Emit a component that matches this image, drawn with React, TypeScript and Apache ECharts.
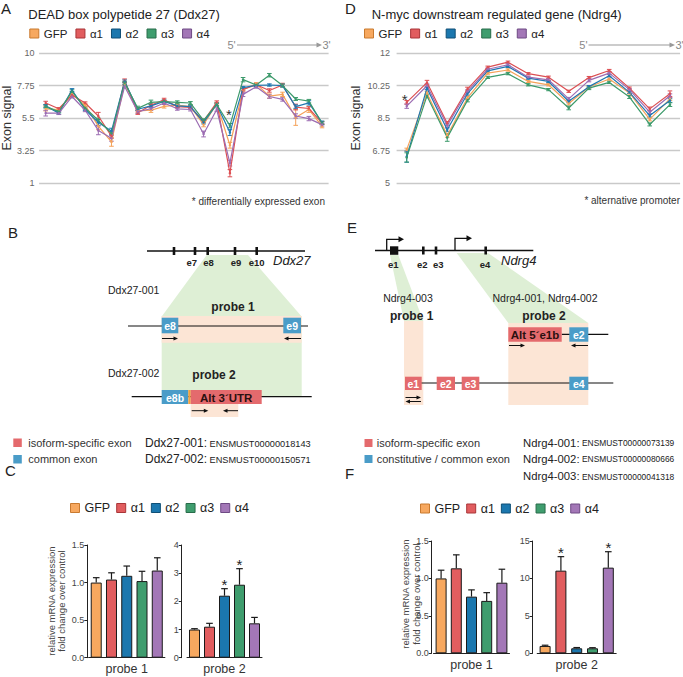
import { useEffect, useRef } from "react";
import * as echarts from "echarts";

const FONT = "'Liberation Sans', Arial, Helvetica, sans-serif";

const groups = ["GFP", "α1", "α2", "α3", "α4"];
const lineColors = ["#f5a259", "#dc4f53", "#1f78b1", "#3c9a6b", "#9c6cb2"];
const fillColors = ["#f7a85f", "#e15d5f", "#1b77ae", "#3f9d6e", "#a377b7"];
const edgeColors = ["#c97a2f", "#a93538", "#0f4f76", "#286c4a", "#6e4a84"];

// ---- Panel A: Ddx27 exon signal ----
const ddxExons = ["1", "2", "3", "4", "5", "6", "7", "8", "9", "10", "11", "12", "13", "14", "15", "16", "17", "18", "19", "20", "21", "22"];
const ddxGFP = [6.15, 6.1, 7.15, 6.4, 4.95, 3.85, 7.9, 6.0, 6.05, 6.32, 6.4, 6.3, 5.05, 6.5, 3.62, 7.47, 7.88, 7.03, 7.15, 5.55, 6.1, 4.95];
const ddxA1 = [6.55, 6.15, 7.1, 6.55, 5.65, 4.25, 8.1, 5.88, 6.4, 6.78, 6.3, 6.25, 5.3, 6.6, 1.68, 7.5, 7.82, 7.42, 7.8, 6.27, 6.17, 5.17];
const ddxA2 = [6.35, 5.85, 7.45, 6.1, 5.2, 4.6, 8.05, 6.12, 6.35, 6.66, 6.35, 6.3, 5.2, 6.45, 4.5, 7.62, 7.78, 7.8, 7.76, 6.3, 6.56, 5.2];
const ddxA3 = [6.3, 5.95, 7.35, 6.2, 5.35, 4.45, 7.95, 6.18, 6.6, 6.65, 6.6, 6.55, 5.35, 6.45, 4.98, 8.17, 7.8, 8.48, 7.76, 6.83, 6.68, 5.15];
const ddxA4 = [5.85, 5.85, 7.0, 6.05, 4.65, 4.1, 7.7, 5.95, 6.15, 6.55, 6.15, 6.1, 4.4, 6.1, 2.38, 7.15, 7.68, 7.0, 6.8, 5.65, 5.47, 5.05];
const ddxGFPErr = [0.15, 0.08, 0.1, 0.08, 0.25, 0.3, 0.1, 0.12, 0.15, 0.12, 0.1, 0.1, 0.15, 0.1, 0.2, 0.1, 0.08, 0.15, 0.15, 0.55, 0.2, 0.12];
const ddxA1Err = [0.12, 0.08, 0.1, 0.08, 0.25, 0.15, 0.12, 0.12, 0.1, 0.1, 0.1, 0.1, 0.1, 0.1, 0.25, 0.1, 0.1, 0.12, 0.12, 0.2, 0.12, 0.1];
const ddxA2Err = [0.1, 0.08, 0.1, 0.08, 0.2, 0.2, 0.1, 0.1, 0.1, 0.1, 0.1, 0.08, 0.1, 0.1, 0.2, 0.08, 0.08, 0.08, 0.1, 0.12, 0.15, 0.1];
const ddxA3Err = [0.1, 0.08, 0.12, 0.08, 0.15, 0.12, 0.1, 0.15, 0.15, 0.1, 0.1, 0.1, 0.1, 0.1, 0.15, 0.15, 0.08, 0.12, 0.1, 0.1, 0.12, 0.1];
const ddxA4Err = [0.2, 0.1, 0.1, 0.1, 0.3, 0.2, 0.12, 0.12, 0.12, 0.1, 0.1, 0.1, 0.2, 0.12, 0.2, 0.15, 0.1, 0.12, 0.12, 0.15, 0.15, 0.1];

// ---- Panel D: Ndrg4 exon signal ----
const ndrgExons = ["1", "2", "3", "4", "5", "6", "7", "8", "9", "10", "11", "12", "13", "14"];
const ndrgGFP = [6.8, 9.85, 7.57, 9.59, 10.93, 11.1, 10.48, 10.3, 9.29, 10.18, 10.61, 9.86, 8.43, 9.54];
const ndrgA1 = [9.35, 10.42, 8.22, 10.07, 11.25, 11.52, 10.9, 10.71, 9.95, 10.69, 11.07, 10.12, 9.0, 9.82];
const ndrgA2 = [6.42, 10.12, 7.87, 9.82, 11.05, 11.29, 10.66, 10.48, 9.41, 10.2, 10.79, 9.89, 8.64, 9.45];
const ndrgA3 = [6.38, 9.7, 7.45, 9.46, 10.7, 10.9, 10.3, 10.04, 9.05, 10.12, 10.43, 9.64, 8.16, 9.23];
const ndrgA4 = [9.15, 10.25, 8.1, 9.95, 11.14, 11.38, 10.71, 10.57, 9.54, 10.54, 10.93, 10.04, 8.82, 9.71];
const ndrgGFPErr = [0.08, 0.1, 0.1, 0.08, 0.06, 0.06, 0.06, 0.06, 0.08, 0.06, 0.06, 0.06, 0.08, 0.08];
const ndrgA1Err = [0.1, 0.12, 0.1, 0.1, 0.06, 0.06, 0.06, 0.06, 0.06, 0.06, 0.06, 0.06, 0.1, 0.15];
const ndrgA2Err = [0.3, 0.08, 0.1, 0.08, 0.06, 0.06, 0.06, 0.06, 0.08, 0.06, 0.06, 0.06, 0.08, 0.1];
const ndrgA3Err = [0.25, 0.1, 0.2, 0.08, 0.06, 0.06, 0.06, 0.06, 0.1, 0.08, 0.06, 0.08, 0.08, 0.1];
const ndrgA4Err = [0.12, 0.1, 0.1, 0.08, 0.06, 0.06, 0.06, 0.06, 0.08, 0.08, 0.06, 0.06, 0.08, 0.1];

// ---- Panel C: Ddx27 qPCR ----
const cProbe1 = [1.0, 1.04, 1.09, 1.02, 1.16];
const cProbe1Err = [0.065, 0.09, 0.13, 0.13, 0.17];
const cProbe1Star = [0, 0, 0, 0, 0];
const cProbe2 = [1.0, 1.1, 2.2, 2.59, 1.22];
const cProbe2Err = [0.03, 0.12, 0.25, 0.57, 0.21];
const cProbe2Star = [0, 0, 1, 1, 0];

// ---- Panel F: Ndrg4 qPCR ----
const fProbe1 = [1.0, 1.135, 0.757, 0.7, 0.943];
const fProbe1Err = [0.11, 0.18, 0.09, 0.11, 0.18];
const fProbe1Star = [0, 0, 0, 0, 0];
const fProbe2 = [0.98, 11.04, 0.67, 0.67, 11.44];
const fProbe2Err = [0.1, 1.87, 0.1, 0.08, 2.13];
const fProbe2Star = [0, 1, 0, 0, 1];

// ---- diagram colours ----
const GREEN = "#deefd5";
const PEACH = "#fce5d5";
const BLUE = "#4a9cc8";
const RED = "#e46a6d";
const DARK = "#2a1010";

const al = (h: string, v = "middle") => ({ align: h, verticalAlign: v, textAlign: h, textVerticalAlign: v });

const txt = (text: string, x: number, y: number, size: number, opts: any = {}) => ({
  type: "text",
  x,
  y,
  silent: true,
  style: { text, fontSize: size, fontFamily: FONT, fill: "#222", ...al(opts.align || "left"), ...opts },
});
const rect = (x: number, y: number, w: number, h: number, fill: string) => ({
  type: "rect",
  silent: true,
  shape: { x, y, width: w, height: h },
  style: { fill },
});
const hline = (x1: number, x2: number, y: number, lw = 1.2, color = "#111") => ({
  type: "line",
  silent: true,
  shape: { x1, y1: y, x2, y2: y },
  style: { stroke: color, lineWidth: lw },
});
const poly = (points: number[][], fill: string) => ({ type: "polygon", silent: true, shape: { points }, style: { fill } });
const arrow = (x1: number, x2: number, y: number) => {
  const d = x2 > x1 ? 1 : -1;
  return [hline(x1, x2 - d * 3, y, 1), poly([[x2, y], [x2 - d * 4.5, y - 2], [x2 - d * 4.5, y + 2]], "#111")];
};
const exonBox = (x1: number, x2: number, y1: number, y2: number, fill: string, label: string, color = "#fff", size = 10.5) => [
  rect(x1, y1, x2 - x1, y2 - y1, fill),
  txt(label, (x1 + x2) / 2, (y1 + y2) / 2 + 0.5, size, { align: "center", fill: color, fontWeight: "bold" }),
];
const promoter = (x: number, yTop: number, xEnd: number) => [
  { type: "polyline", silent: true, shape: { points: [[x, 250.5], [x, yTop], [xEnd - 4, yTop]] }, style: { stroke: "#111", lineWidth: 1.3, fill: "none" } },
  poly([[xEnd, yTop], [xEnd - 5.5, yTop - 3], [xEnd - 5.5, yTop + 3]], "#111"),
];
const idTxt = (id: string, acc: string, x: number, y: number, big: number, small: number) => ({
  type: "text",
  x,
  y,
  silent: true,
  style: {
    text: `{a|${id}:}{b|${acc}}`,
    ...al("left"),
    rich: {
      a: { fontSize: big, fontFamily: FONT, fill: "#222", color: "#222", verticalAlign: "bottom" },
      b: { fontSize: small, fontFamily: FONT, fill: "#222", color: "#222", verticalAlign: "bottom", padding: [0, 0, 1, 2.5] },
    },
  },
});
const yName = (x: number, y: number) => ({
  type: "text",
  x,
  y,
  rotation: Math.PI / 2,
  silent: true,
  style: {
    text: "relative mRNA expression\nfold change over control",
    fontSize: 9.5,
    lineHeight: 10.5,
    fontFamily: FONT,
    fill: "#444",
    ...al("center"),
  },
});

const panelB = [
  poly([[206.7, 255], [248, 255], [301.7, 316.5], [301.7, 397], [161.7, 397], [161.7, 316.5]], GREEN),
  rect(161.7, 316, 140, 26.7, PEACH),
  rect(190.7, 404, 47.6, 13, PEACH),
  hline(147, 305, 251, 1.3),
  ...[174, 195, 207.7, 235, 256.7].map((x) => rect(x - 1.3, 247, 2.6, 8, "#111")),
  txt("e7", 191.7, 262, 9.5, { align: "center", fontWeight: "bold" }),
  txt("e8", 208.5, 262, 9.5, { align: "center", fontWeight: "bold" }),
  txt("e9", 236, 262, 9.5, { align: "center", fontWeight: "bold" }),
  txt("e10", 256.7, 262, 9.5, { align: "center", fontWeight: "bold" }),
  txt("Ddx27", 273, 260.5, 13, { fontStyle: "italic" }),
  txt("Ddx27-001", 108, 290, 10.5),
  txt("probe 1", 233, 306.7, 12, { align: "center", fontWeight: "bold" }),
  hline(128, 308, 326, 1.2),
  ...exonBox(161.7, 178.3, 317.7, 333.3, BLUE, "e8"),
  ...exonBox(283.3, 301, 317.7, 333.3, BLUE, "e9"),
  ...arrow(162, 178, 338.5),
  ...arrow(301, 284, 338.5),
  txt("Ddx27-002", 108, 373, 10.5),
  txt("probe 2", 214, 375, 12, { align: "center", fontWeight: "bold" }),
  hline(131.7, 311.7, 396.7, 1.2),
  ...exonBox(161.7, 188.3, 390, 404, BLUE, "e8b"),
  rect(188.3, 390, 2.4, 14, "#f2a03d"),
  ...exonBox(190.7, 261.7, 390, 404, RED, "Alt 3´UTR", DARK, 11.5),
  ...arrow(191.7, 208.3, 410.7),
  ...arrow(238, 223, 410.7),
  rect(13.3, 438.5, 8.5, 8.5, RED),
  txt("isoform-specific exon", 28.3, 443, 11, { fill: "#333" }),
  rect(13.3, 455, 8.5, 8.5, BLUE),
  txt("common exon", 28.3, 459, 11, { fill: "#333" }),
  idTxt("Ddx27-001", "ENSMUST00000018143", 145, 443, 12, 9.2),
  idTxt("Ddx27-002", "ENSMUST00000150571", 145, 459, 12, 9.2),
];

const panelE = [
  poly([[390, 255], [398.3, 255], [423.3, 321], [404, 321]], GREEN),
  poly([[456.7, 253], [488, 253], [588.3, 323], [508.3, 323]], GREEN),
  rect(404, 321, 19.3, 84, PEACH),
  rect(508.3, 323, 80, 82, PEACH),
  hline(375, 533.3, 250.5, 1.3),
  rect(390, 246.3, 8.3, 8.5, "#111"),
  ...[423.3, 436, 485.7].map((x) => rect(x - 1.3, 246.5, 2.6, 8, "#111")),
  ...promoter(386.7, 239.3, 404),
  ...promoter(455, 238.3, 472),
  txt("e1", 393.3, 264, 9.5, { align: "center", fontWeight: "bold" }),
  txt("e2", 422.3, 264, 9.5, { align: "center", fontWeight: "bold" }),
  txt("e3", 438.3, 264, 9.5, { align: "center", fontWeight: "bold" }),
  txt("e4", 485, 264, 9.5, { align: "center", fontWeight: "bold" }),
  txt("Ndrg4", 501, 260, 13, { fontStyle: "italic" }),
  txt("Ndrg4-003", 408, 298, 10.5, { align: "center" }),
  txt("probe 1", 411.7, 316, 12, { align: "center", fontWeight: "bold" }),
  txt("Ndrg4-001, Ndrg4-002", 545, 298, 10.5, { align: "center" }),
  txt("probe 2", 544, 316, 12, { align: "center", fontWeight: "bold" }),
  hline(561.7, 608.3, 334.3, 1.2),
  ...exonBox(508.3, 561.7, 327.3, 341.7, RED, "Alt 5´e1b", DARK, 11.5),
  ...exonBox(569.3, 588.3, 327.3, 341.7, BLUE, "e2"),
  ...arrow(509, 525, 345.5),
  ...arrow(588, 571, 345.5),
  hline(415, 613.3, 383, 1.2),
  ...exonBox(405, 421.7, 376.7, 390, RED, "e1"),
  ...exonBox(436.7, 455, 376.7, 390, RED, "e2"),
  ...exonBox(461.7, 479.3, 376.7, 390, RED, "e3"),
  ...exonBox(569.3, 588.3, 376.7, 390, BLUE, "e4"),
  ...arrow(405.5, 421, 397.5),
  ...arrow(421, 405.5, 401.5),
  rect(364.5, 439, 8, 8, RED),
  txt("isoform-specific exon", 376.7, 443, 11, { fill: "#333" }),
  rect(364.5, 455, 8, 8, BLUE),
  txt("constitutive / common exon", 376.7, 458.5, 11, { fill: "#333" }),
  idTxt("Ndrg4-001", "ENSMUST00000073139", 523, 442.7, 11.3, 8.4),
  idTxt("Ndrg4-002", "ENSMUST00000080666", 523, 458.5, 11.3, 8.4),
  idTxt("Ndrg4-003", "ENSMUST00000041318", 523, 476, 11.3, 8.4),
];

const annotations = [
  txt("5'", 227.5, 45, 11, { fill: "#888" }),
  hline(237, 318, 45, 1, "#999"),
  poly([[322, 45], [316.5, 42.5], [316.5, 47.5]], "#999"),
  txt("3'", 322.5, 45, 11, { fill: "#888" }),
  txt("5'", 579.3, 45, 11, { fill: "#888" }),
  hline(588.5, 671, 45, 1, "#999"),
  poly([[675, 45], [669.5, 42.5], [669.5, 47.5]], "#999"),
  txt("3'", 675.5, 45, 11, { fill: "#888" }),
  txt("* differentially expressed exon", 325, 201.5, 10, { align: "right", fill: "#333" }),
  txt("* alternative promoter", 680, 200.5, 10, { align: "right", fill: "#333" }),
  yName(56.7, 601),
  yName(411, 594),
];

const legendData = groups.map((g, k) => ({
  name: g,
  itemStyle: { color: fillColors[k], borderColor: edgeColors[k], borderWidth: 1 },
}));
const mkLegend = (left: number, top: number, fontSize: number, gap: number) => ({
  left,
  top,
  orient: "horizontal",
  padding: 0,
  itemWidth: 9,
  itemHeight: 9,
  itemGap: gap,
  icon: "rect",
  selectedMode: false,
  textStyle: { fontSize, color: "#222", fontFamily: FONT },
  data: legendData,
});

const lineErr = (ai: number, means: number[], errs: number[], color: string) => ({
  type: "custom",
  xAxisIndex: ai,
  yAxisIndex: ai,
  silent: true,
  z: 2,
  encode: { x: 0, y: 1 },
  data: means.map((m, i) => [i, m, errs[i]]),
  renderItem: (_p: any, api: any) => {
    const i = api.value(0);
    const m = api.value(1);
    const e = api.value(2);
    const hi = api.coord([i, m + e]);
    const lo = api.coord([i, m - e]);
    const w = 2.3;
    const st = { stroke: color, lineWidth: 1 };
    return {
      type: "group",
      children: [
        { type: "line", shape: { x1: hi[0], y1: hi[1], x2: lo[0], y2: lo[1] }, style: st },
        { type: "line", shape: { x1: hi[0] - w, y1: hi[1], x2: hi[0] + w, y2: hi[1] }, style: st },
        { type: "line", shape: { x1: lo[0] - w, y1: lo[1], x2: lo[0] + w, y2: lo[1] }, style: st },
      ],
    };
  },
});

const lineSer = (ai: number, data: number[], k: number, extra: any = {}) => ({
  type: "line",
  name: groups[k],
  xAxisIndex: ai,
  yAxisIndex: ai,
  data,
  symbol: "circle",
  symbolSize: 2.5,
  lineStyle: { color: lineColors[k], width: 1.2 },
  itemStyle: { color: lineColors[k] },
  z: 3,
  ...extra,
});

const starMark = (coord: any[], offset: number[]) => ({
  symbol: "circle",
  symbolSize: 1,
  itemStyle: { color: "rgba(0,0,0,0)" },
  label: { show: true, position: "inside", formatter: "*", fontSize: 15, color: "#333", offset },
  data: [{ coord }],
});

const barSers = (ai: number, values: number[]) =>
  groups.map((g, k) => ({
    type: "bar",
    name: g,
    xAxisIndex: ai,
    yAxisIndex: ai,
    data: values.map((v, i) => (i === k ? v : "-")),
    barWidth: 11,
    barGap: "-100%",
    itemStyle: { color: fillColors[k], borderColor: "#1a1a1a", borderWidth: 1 },
    z: 2,
  }));

const barErr = (ai: number, values: number[], errs: number[], stars: number[]) => ({
  type: "custom",
  xAxisIndex: ai,
  yAxisIndex: ai,
  silent: true,
  z: 4,
  encode: { x: 0, y: 1 },
  data: values.map((v, i) => [i, v, errs[i], stars[i]]),
  renderItem: (_p: any, api: any) => {
    const i = api.value(0);
    const v = api.value(1);
    const e = api.value(2);
    const s = api.value(3);
    const base = api.coord([i, v]);
    const top = api.coord([i, v + e]);
    const w = 3.3;
    const st = { stroke: "#1a1a1a", lineWidth: 1.2 };
    const children: any[] = [
      { type: "line", shape: { x1: base[0], y1: base[1], x2: top[0], y2: top[1] }, style: st },
      { type: "line", shape: { x1: top[0] - w, y1: top[1], x2: top[0] + w, y2: top[1] }, style: st },
    ];
    if (s) {
      children.push({
        type: "text",
        x: top[0],
        y: top[1] - 4.5,
        style: { text: "*", fontSize: 15, fontFamily: FONT, fill: "#222", ...al("center") },
      });
    }
    return { type: "group", children };
  },
});

const lineX = (gi: number, cats: string[]) => ({
  type: "category",
  gridIndex: gi,
  data: cats,
  boundaryGap: true,
  axisLine: { show: false },
  axisTick: { show: false },
  axisLabel: { show: false },
  splitLine: { show: false },
});
const lineY = (gi: number, min: number, max: number, interval: number, gap: number, margin: number) => ({
  type: "value",
  gridIndex: gi,
  min,
  max,
  interval,
  name: "Exon signal",
  nameLocation: "middle",
  nameGap: gap,
  nameTextStyle: { fontSize: 12.5, color: "#333", fontFamily: FONT },
  axisLine: { show: false },
  axisTick: { show: false },
  axisLabel: { fontSize: 9, color: "#666", margin },
  splitLine: { show: true, lineStyle: { color: "#c9c9c9", width: 1.3 } },
});
const barX = (gi: number, name: string) => ({
  type: "category",
  gridIndex: gi,
  data: groups,
  name,
  nameLocation: "middle",
  nameGap: 5,
  nameTextStyle: { fontSize: 12.5, color: "#333", fontFamily: FONT },
  axisLine: { show: true, lineStyle: { color: "#222", width: 1 } },
  axisTick: { show: false },
  axisLabel: { show: false },
});
const barY = (gi: number, max: number, interval: number, decimals: number, offset: number) => ({
  type: "value",
  gridIndex: gi,
  min: 0,
  max,
  interval,
  offset,
  axisLine: { show: true, lineStyle: { color: "#222", width: 1 } },
  axisTick: { show: true, length: 3, lineStyle: { color: "#222" } },
  axisLabel: { fontSize: 9, color: "#444", margin: 3, formatter: (v: number) => v.toFixed(decimals) },
  splitLine: { show: false },
});

const panelTitle = (text: string, left: number, top: number, size: number) => ({
  text,
  left,
  top,
  padding: 0,
  textStyle: { fontSize: size, fontWeight: "normal", color: "#222", fontFamily: FONT },
});

export default function App() {
  const ref = useRef<HTMLDivElement>(null);
  useEffect(() => {
    if (!ref.current) return;
    const chart = echarts.init(ref.current, null, { renderer: "svg" });
    const ddx = [ddxGFP, ddxA1, ddxA2, ddxA3, ddxA4];
    const ddxE = [ddxGFPErr, ddxA1Err, ddxA2Err, ddxA3Err, ddxA4Err];
    const ndrg = [ndrgGFP, ndrgA1, ndrgA2, ndrgA3, ndrgA4];
    const ndrgE = [ndrgGFPErr, ndrgA1Err, ndrgA2Err, ndrgA3Err, ndrgA4Err];
    const option: any = {
      animation: false,
      textStyle: { fontFamily: FONT },
      title: [
        panelTitle("A", 1, 0.5, 15),
        panelTitle("DEAD box polypetide 27 (Ddx27)", 28.3, 7.5, 13),
        panelTitle("D", 345, 1, 15),
        panelTitle("N-myc downstream regulated gene (Ndrg4)", 371.7, 7.5, 13),
        panelTitle("B", 8, 225, 15),
        panelTitle("E", 347, 219.5, 15),
        panelTitle("C", 5, 463, 15),
        panelTitle("F", 345, 466, 15),
      ],
      legend: [mkLegend(29.3, 27.5, 11.5, 8), mkLegend(364, 27.5, 11.5, 8), mkLegend(70, 501.5, 12.5, 6), mkLegend(420, 502, 12.5, 6)],
      grid: [
        { left: 39.1, top: 53.3, width: 289.5, height: 129.7, outerBoundsMode: "none" },
        { left: 396.6, top: 53.3, width: 283.5, height: 129.7, outerBoundsMode: "none" },
        { left: 88.6, top: 545, width: 76.3, height: 112.7, outerBoundsMode: "none" },
        { left: 187, top: 545, width: 75, height: 112.7, outerBoundsMode: "none" },
        { left: 433.5, top: 541, width: 76, height: 112.3, outerBoundsMode: "none" },
        { left: 537.2, top: 541, width: 79, height: 112.3, outerBoundsMode: "none" },
      ],
      xAxis: [lineX(0, ddxExons), lineX(1, ndrgExons), barX(2, "probe 1"), barX(3, "probe 2"), barX(4, "probe 1"), barX(5, "probe 2")],
      yAxis: [
        lineY(0, 1, 10, 2.25, 22, 4.5),
        lineY(1, 5, 12, 1.75, 34.5, 6.5),
        barY(2, 1.5, 0.5, 1, 1.3),
        barY(3, 4, 1, 0, 5.3),
        barY(4, 1.5, 0.5, 1, 1.8),
        barY(5, 15, 5, 0, 4.5),
      ],
      series: [
        ...ddx.map((d, k) => lineErr(0, d, ddxE[k], lineColors[k])),
        ...ddx.map((d, k) => lineSer(0, d, k, k === 3 ? { markPoint: starMark([ddxExons[14], 5.75], [-1, 0]) } : {})),
        ...ndrg.map((d, k) => lineErr(1, d, ndrgE[k], lineColors[k])),
        ...ndrg.map((d, k) => lineSer(1, d, k, k === 1 ? { markPoint: starMark([ndrgExons[0], 9.5], [-2, 0]) } : {})),
        ...barSers(2, cProbe1),
        barErr(2, cProbe1, cProbe1Err, cProbe1Star),
        ...barSers(3, cProbe2),
        barErr(3, cProbe2, cProbe2Err, cProbe2Star),
        ...barSers(4, fProbe1),
        barErr(4, fProbe1, fProbe1Err, fProbe1Star),
        ...barSers(5, fProbe2),
        barErr(5, fProbe2, fProbe2Err, fProbe2Star),
      ],
      graphic: { elements: [...panelB, ...panelE, ...annotations] },
    };
    chart.setOption(option);
    return () => chart.dispose();
  }, []);
  return (
    <div
      ref={ref}
      style={{ position: "fixed", left: 0, top: 0, width: 683, height: 677, background: "#fff" }}
    />
  );
}
